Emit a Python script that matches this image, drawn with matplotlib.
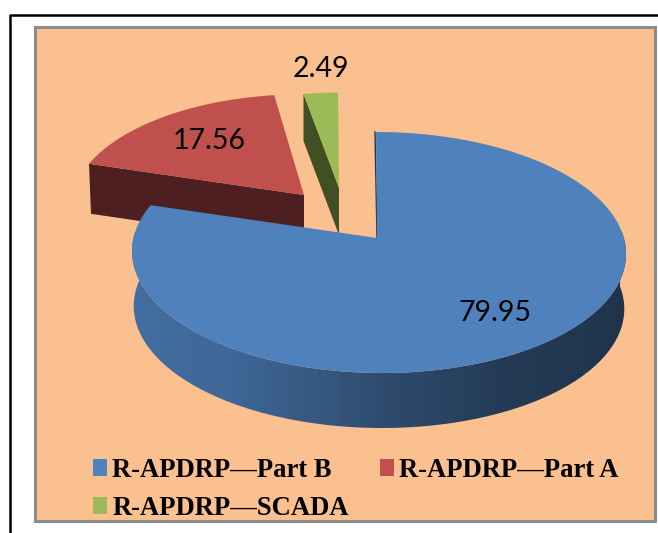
import matplotlib
matplotlib.use('Agg')
import matplotlib.pyplot as plt
import numpy as np
from matplotlib.patches import Patch, Polygon, Rectangle

categories = ['R-APDRP—Part B', 'R-APDRP—Part A', 'R-APDRP—SCADA']
values = [79.95, 17.56, 2.49]
labels = ['79.95', '17.56', '2.49']

colors = ['#4f81bd', '#c0504d', '#9bbb59']
dark = ['#1f3550', '#4e1f20', '#404f24']
panel = '#fbc08f'

# ellipse of the pie top, in image pixels
cx, cy, a, b = 379, 252.5, 247, 120.5
ax0, ay0 = 377, 238
depth = 55


def rim(theta, warp=True):
    # theta in degrees, clockwise from 12 o'clock
    r = np.radians(theta)
    t = np.radians(theta + (2 * np.sin(r) ** 2 - 6 * np.sin(2 * r) if warp else 0))
    return cx + a * np.sin(t) - 3 * np.cos(t), cy - b * np.cos(t)


def wedge(t0, t1, dx=0, dy=0, scale=1.0, warp=True):
    th = np.linspace(t0, t1, 200)
    x, y = rim(th, warp)
    x = ax0 + (x - ax0) * scale + dx
    y = ay0 + (y - ay0) * scale + dy
    return x, y, (ax0 + dx, ay0 + dy)


fig = plt.figure(figsize=(6.58, 5.33), dpi=100)
ax = fig.add_axes([0, 0, 1, 1])
ax.set_xlim(0, 658)
ax.set_ylim(533, 0)
ax.axis('off')

# page frame and chart panel
ax.plot([9.5, 9.5, 660], [535, 14.5, 14.5], color='black', lw=1.8)
ax.add_patch(Rectangle((35, 27), 620, 494, fc=panel, ec='#8c8c8c', lw=2.2))

edges = np.cumsum([0] + values) * 3.6

# Part A
x, y, apex = wedge(edges[1], edges[2], dx=-73, dy=-43, scale=0.95)
d = 50
ax.add_patch(Polygon([(x[0], y[0]), apex, (apex[0], apex[1] + d), (x[0] + 2, y[0] + d)],
                     fc=dark[1], ec='none'))
ax.add_patch(Polygon(np.r_[[apex], np.c_[x, y]], fc=colors[1], ec='none'))
ax.text(209, 141, labels[1], fontsize=20.5, family='Lato', ha='center', va='center')

# SCADA
x, y, apex = wedge(edges[2], edges[3], dx=-38, dy=-50, scale=0.9, warp=False)
d = 47
ax.add_patch(Polygon([(x[0], y[0]), apex, (apex[0], apex[1] + d), (x[0], y[0] + d)],
                     fc=dark[2], ec='none'))
ax.add_patch(Polygon(np.r_[[apex], np.c_[x, y]], fc=colors[2], ec='none'))
ax.text(321, 69, labels[2], fontsize=20.5, family='Lato', ha='center', va='center')

# Part B, rim with left-to-right shading, lower edge a little narrower
th = np.linspace(80, 280, 200)
x, y = rim(th)
low_x = cx + (x - cx) * 0.993
side = Polygon(np.r_[np.c_[x, y], np.c_[low_x[::-1], y[::-1] + depth]], fc='none', ec='none')
ax.add_patch(side)
grad = np.interp(np.linspace(0, 1, 256), [0, 0.2, 0.55, 0.75, 1], [0.85, 0.8, 0.56, 0.46, 0.4])
c0 = np.array(matplotlib.colors.to_rgb(colors[0]))
img = (c0[None, :] * grad[:, None])[None, :, :]
im = ax.imshow(img, extent=[cx - a, cx + a, cy + b + depth, cy - 20], aspect='auto', zorder=2)
im.set_clip_path(side)
ax.set_xlim(0, 658)
ax.set_ylim(533, 0)

x, y, apex = wedge(edges[0], edges[1])
ax.plot([x[0] - 1, apex[0]], [y[0], apex[1]], color=dark[0], lw=1, zorder=2.5)
ax.add_patch(Polygon(np.r_[[apex], np.c_[x, y]], fc=colors[0], ec='none', zorder=3))
ax.text(495, 313, labels[0], fontsize=20.5, family='Lato', ha='center', va='center', zorder=4)

# legend: two columns filled top-down, so the order is B, SCADA, A
order = [0, 2, 1]
handles = [Patch(fc=colors[i], ec='none', label=categories[i]) for i in order]
leg = ax.legend(handles=handles, ncol=2, frameon=False, loc='upper left',
                bbox_to_anchor=(93 / 658, 1 - 458 / 533), borderaxespad=0, borderpad=0,
                handlelength=0.52, handleheight=0.6, handletextpad=0.2, columnspacing=1.16,
                labelspacing=0.47,
                prop={'family': 'Liberation Serif', 'weight': 'bold', 'size': 19.2})
leg.set_zorder(5)

fig.savefig('out.png', dpi=100)
